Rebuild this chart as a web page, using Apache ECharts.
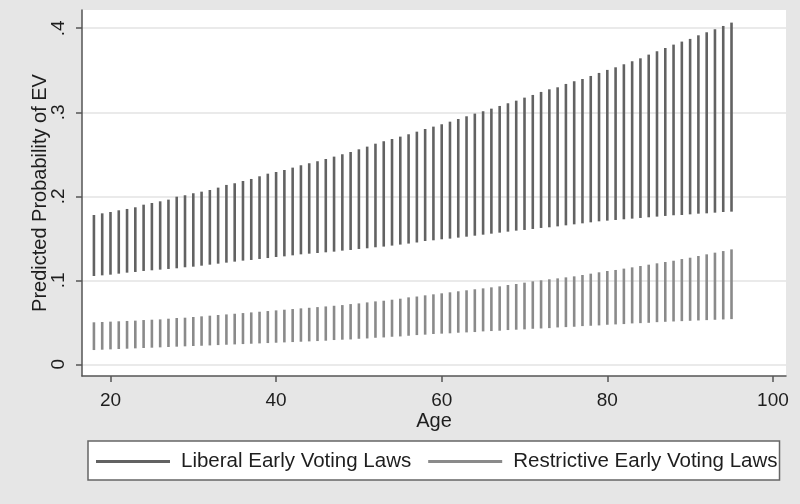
<!DOCTYPE html>
<html>
<head>
<meta charset="utf-8">
<script src="https://cdn.jsdelivr.net/npm/echarts@6/dist/echarts.min.js"></script>
<style>html,body{margin:0;padding:0;background:#e6e6e6;}#c{width:800px;height:504px;}</style>
</head>
<body>
<div id="c"></div>
<script>
const ages = [18,19,20,21,22,23,24,25,26,27,28,29,30,31,32,33,34,35,36,37,38,39,40,41,42,43,44,45,46,47,48,49,50,51,52,53,54,55,56,57,58,59,60,61,62,63,64,65,66,67,68,69,70,71,72,73,74,75,76,77,78,79,80,81,82,83,84,85,86,87,88,89,90,91,92,93,94,95];
const libHigh = [0.1777,0.1797,0.1813,0.1833,0.1849,0.1869,0.1900,0.1920,0.1940,0.1960,0.1995,0.2012,0.2036,0.2055,0.2075,0.2103,0.2135,0.2155,0.2182,0.2206,0.2238,0.2269,0.2289,0.2313,0.2341,0.2369,0.2393,0.2417,0.2444,0.2472,0.2500,0.2527,0.2559,0.2591,0.2626,0.2655,0.2682,0.2710,0.2738,0.2769,0.2801,0.2829,0.2857,0.2888,0.2920,0.2952,0.2984,0.3012,0.3043,0.3075,0.3107,0.3138,0.3174,0.3206,0.3242,0.3273,0.3297,0.3337,0.3369,0.3396,0.3432,0.3468,0.3504,0.3535,0.3571,0.3607,0.3642,0.3686,0.3726,0.3765,0.3805,0.3841,0.3873,0.3916,0.3952,0.3988,0.4027,0.4067];
const libLow = [0.1051,0.1059,0.1067,0.1079,0.1091,0.1099,0.1111,0.1119,0.1127,0.1135,0.1143,0.1155,0.1162,0.1174,0.1186,0.1198,0.1210,0.1222,0.1234,0.1242,0.1254,0.1265,0.1277,0.1285,0.1297,0.1309,0.1317,0.1325,0.1333,0.1341,0.1353,0.1361,0.1373,0.1381,0.1393,0.1401,0.1413,0.1425,0.1437,0.1450,0.1468,0.1476,0.1488,0.1496,0.1508,0.1519,0.1531,0.1543,0.1555,0.1567,0.1579,0.1591,0.1599,0.1611,0.1623,0.1631,0.1642,0.1654,0.1666,0.1678,0.1690,0.1702,0.1710,0.1718,0.1726,0.1734,0.1742,0.1750,0.1758,0.1766,0.1774,0.1777,0.1785,0.1793,0.1797,0.1805,0.1813,0.1817];
const resHigh = [0.0500,0.0504,0.0508,0.0512,0.0516,0.0520,0.0527,0.0531,0.0535,0.0543,0.0551,0.0555,0.0563,0.0571,0.0579,0.0587,0.0594,0.0602,0.0610,0.0618,0.0626,0.0634,0.0642,0.0650,0.0658,0.0666,0.0673,0.0681,0.0689,0.0697,0.0705,0.0717,0.0725,0.0737,0.0749,0.0757,0.0769,0.0781,0.0797,0.0807,0.0821,0.0833,0.0845,0.0857,0.0869,0.0881,0.0893,0.0904,0.0916,0.0928,0.0944,0.0956,0.0972,0.0988,0.1000,0.1012,0.1023,0.1035,0.1047,0.1063,0.1079,0.1095,0.1111,0.1123,0.1139,0.1154,0.1170,0.1186,0.1202,0.1218,0.1233,0.1253,0.1269,0.1289,0.1309,0.1329,0.1348,0.1368];
const resLow = [0.0170,0.0174,0.0178,0.0182,0.0186,0.0190,0.0194,0.0198,0.0202,0.0206,0.0210,0.0214,0.0218,0.0221,0.0225,0.0229,0.0233,0.0237,0.0241,0.0245,0.0249,0.0253,0.0257,0.0261,0.0265,0.0269,0.0273,0.0277,0.0281,0.0289,0.0293,0.0296,0.0304,0.0308,0.0316,0.0320,0.0328,0.0332,0.0340,0.0348,0.0353,0.0361,0.0365,0.0369,0.0376,0.0380,0.0384,0.0392,0.0396,0.0400,0.0408,0.0412,0.0416,0.0423,0.0427,0.0431,0.0439,0.0443,0.0447,0.0455,0.0459,0.0463,0.0471,0.0475,0.0479,0.0487,0.0490,0.0494,0.0502,0.0506,0.0510,0.0514,0.0518,0.0522,0.0526,0.0530,0.0534,0.0538];
const xTicks = [20,40,60,80,100];
const yTicks = [0,0.1,0.2,0.3,0.4];
const seriesNames = ['Liberal Early Voting Laws','Restrictive Early Voting Laws'];

const FONT = 'Liberation Sans, Arial, sans-serif';
function rows(lo, hi){ return ages.map((a,i)=>[a, lo[i], hi[i]]); }
function spike(params, api){
  const x = api.value(0);
  const p1 = api.coord([x, api.value(1)]);
  const p2 = api.coord([x, api.value(2)]);
  return {type:'line', shape:{x1:p1[0],y1:p1[1],x2:p2[0],y2:p2[1]},
    style:{stroke:api.visual('color'), lineWidth:2.6}};
}
const chart = echarts.init(document.getElementById('c'), null, {renderer:'canvas'});
chart.setOption({
  backgroundColor:'#e6e6e6',
  animation:false,
  grid:{left:82, top:10, right:14, bottom:128, show:true, backgroundColor:'#ffffff', borderWidth:0},
  xAxis:{type:'value', min:16.56, max:101.58,
    axisLine:{show:true, onZero:false, lineStyle:{color:'#555555', width:1.5}},
    axisTick:{show:true, length:6, customValues:xTicks, lineStyle:{color:'#555555', width:1.5}},
    axisLabel:{customValues:xTicks, margin:15, color:'#1e1e1e', fontSize:19, fontFamily:FONT},
    splitLine:{show:false},
    name:'Age', nameLocation:'middle', nameGap:35, nameMoveOverlap:false,
    nameTextStyle:{color:'#1e1e1e', fontSize:20, fontFamily:FONT}},
  yAxis:{type:'value', min:-0.0139, max:0.4217,
    axisLine:{show:true, onZero:false, lineStyle:{color:'#555555', width:1.5}},
    axisTick:{show:true, length:6, customValues:yTicks, lineStyle:{color:'#555555', width:1.5}},
    axisLabel:{customValues:yTicks, rotate:90, margin:14, color:'#1e1e1e', fontSize:19, fontFamily:FONT,
      formatter:v=> v===0 ? '0' : ('.' + Math.round(v*10))},
    splitLine:{show:true, lineStyle:{color:'#e3e3e3', width:1.5}},
    name:'Predicted Probability of EV', nameLocation:'middle', nameGap:32, nameRotate:90, nameMoveOverlap:false,
    nameTextStyle:{color:'#1e1e1e', fontSize:20, fontFamily:FONT}},
  legend:{left:88, top:441, orient:'horizontal', data:seriesNames, icon:'rect',
    itemWidth:74, itemHeight:3, itemGap:17,
    padding:[10,2,8,8], backgroundColor:'#ffffff', borderColor:'#666666', borderWidth:1.5, borderRadius:0,
    textStyle:{color:'#1e1e1e', fontSize:20.5, fontFamily:FONT, padding:[0,0,0,6]}},
  series:[
    {name:seriesNames[0], type:'custom', renderItem:spike, data:rows(libLow, libHigh),
      encode:{x:0, y:[1,2]}, itemStyle:{color:'#626262'}},
    {name:seriesNames[1], type:'custom', renderItem:spike, data:rows(resLow, resHigh),
      encode:{x:0, y:[1,2]}, itemStyle:{color:'#8a8a8a'}}
  ]
});
</script>
</body>
</html>
